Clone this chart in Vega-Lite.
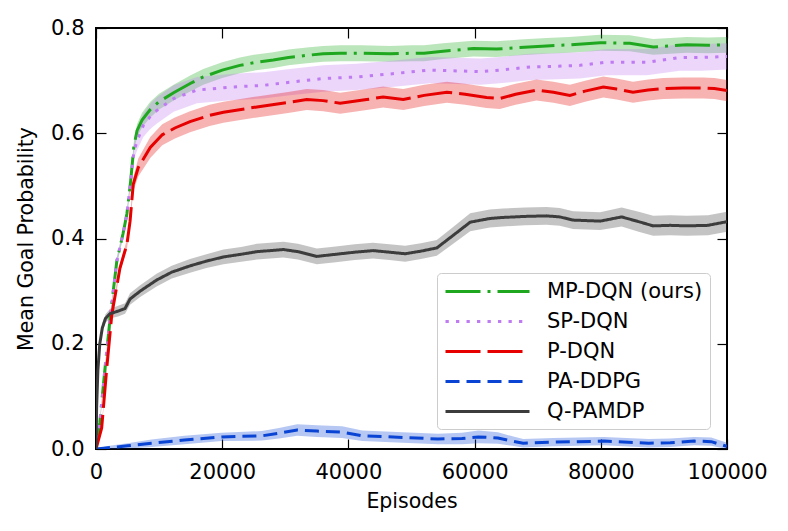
{
  "$schema": "https://vega.github.io/schema/vega-lite/v6.json",
  "width": 631,
  "height": 421,
  "autosize": {"type": "none"},
  "padding": {"left": 96, "top": 28, "right": 61, "bottom": 82},
  "background": "white",
  "config": {
    "font": "DejaVu Sans",
    "view": {"stroke": "#000000", "strokeWidth": 2},
    "axis": {
      "domain": false,
      "grid": false,
      "tickColor": "#000000",
      "tickWidth": 1.2,
      "tickSize": -10,
      "labelFlush": false,
      "labelFont": "DejaVu Sans",
      "labelFontSize": 21,
      "labelColor": "#000000",
      "titleFont": "DejaVu Sans",
      "titleFontSize": 20.5,
      "titleFontWeight": "normal",
      "titleColor": "#000000"
    },
    "legend": {
      "fillColor": "rgba(255,255,255,0.8)",
      "strokeColor": "#cccccc",
      "cornerRadius": 4,
      "padding": 7,
      "symbolType": "M-1,0H7.4",
      "symbolSize": 400,
      "symbolStrokeWidth": 3,
      "symbolOpacity": 1,
      "labelFont": "DejaVu Sans",
      "labelFontSize": 21,
      "labelColor": "#000000",
      "labelOffset": 80,
      "rowPadding": 8
    }
  },
  "data": {
    "values": [
      {"algo": "MP-DQN (ours)", "ep": 0, "mean": 0.0, "lo": 0.0, "hi": 0.0},
      {"algo": "MP-DQN (ours)", "ep": 600, "mean": 0.05, "lo": 0.045, "hi": 0.055},
      {"algo": "MP-DQN (ours)", "ep": 1400, "mean": 0.15, "lo": 0.144, "hi": 0.156},
      {"algo": "MP-DQN (ours)", "ep": 2300, "mean": 0.256, "lo": 0.25, "hi": 0.262},
      {"algo": "MP-DQN (ours)", "ep": 3300, "mean": 0.357, "lo": 0.35, "hi": 0.364},
      {"algo": "MP-DQN (ours)", "ep": 4300, "mean": 0.41, "lo": 0.403, "hi": 0.417},
      {"algo": "MP-DQN (ours)", "ep": 4900, "mean": 0.447, "lo": 0.44, "hi": 0.454},
      {"algo": "MP-DQN (ours)", "ep": 5500, "mean": 0.51, "lo": 0.502, "hi": 0.518},
      {"algo": "MP-DQN (ours)", "ep": 6000, "mean": 0.575, "lo": 0.565, "hi": 0.585},
      {"algo": "MP-DQN (ours)", "ep": 6500, "mean": 0.605, "lo": 0.593, "hi": 0.617},
      {"algo": "MP-DQN (ours)", "ep": 7300, "mean": 0.625, "lo": 0.611, "hi": 0.639},
      {"algo": "MP-DQN (ours)", "ep": 8600, "mean": 0.645, "lo": 0.63, "hi": 0.66},
      {"algo": "MP-DQN (ours)", "ep": 10000, "mean": 0.66, "lo": 0.645, "hi": 0.675},
      {"algo": "MP-DQN (ours)", "ep": 12300, "mean": 0.677, "lo": 0.662, "hi": 0.692},
      {"algo": "MP-DQN (ours)", "ep": 15000, "mean": 0.695, "lo": 0.68, "hi": 0.71},
      {"algo": "MP-DQN (ours)", "ep": 17000, "mean": 0.707, "lo": 0.692, "hi": 0.722},
      {"algo": "MP-DQN (ours)", "ep": 20000, "mean": 0.72, "lo": 0.705, "hi": 0.735},
      {"algo": "MP-DQN (ours)", "ep": 22800, "mean": 0.729, "lo": 0.714, "hi": 0.744},
      {"algo": "MP-DQN (ours)", "ep": 25000, "mean": 0.734, "lo": 0.719, "hi": 0.749},
      {"algo": "MP-DQN (ours)", "ep": 28100, "mean": 0.739, "lo": 0.724, "hi": 0.754},
      {"algo": "MP-DQN (ours)", "ep": 30500, "mean": 0.744, "lo": 0.729, "hi": 0.759},
      {"algo": "MP-DQN (ours)", "ep": 33400, "mean": 0.748, "lo": 0.733, "hi": 0.763},
      {"algo": "MP-DQN (ours)", "ep": 36000, "mean": 0.751, "lo": 0.736, "hi": 0.766},
      {"algo": "MP-DQN (ours)", "ep": 38700, "mean": 0.752, "lo": 0.737, "hi": 0.767},
      {"algo": "MP-DQN (ours)", "ep": 42000, "mean": 0.752, "lo": 0.737, "hi": 0.767},
      {"algo": "MP-DQN (ours)", "ep": 46600, "mean": 0.751, "lo": 0.736, "hi": 0.766},
      {"algo": "MP-DQN (ours)", "ep": 50000, "mean": 0.752, "lo": 0.737, "hi": 0.767},
      {"algo": "MP-DQN (ours)", "ep": 52000, "mean": 0.752, "lo": 0.737, "hi": 0.767},
      {"algo": "MP-DQN (ours)", "ep": 55000, "mean": 0.756, "lo": 0.741, "hi": 0.771},
      {"algo": "MP-DQN (ours)", "ep": 59800, "mean": 0.761, "lo": 0.746, "hi": 0.776},
      {"algo": "MP-DQN (ours)", "ep": 63500, "mean": 0.76, "lo": 0.745, "hi": 0.775},
      {"algo": "MP-DQN (ours)", "ep": 67200, "mean": 0.763, "lo": 0.748, "hi": 0.778},
      {"algo": "MP-DQN (ours)", "ep": 71400, "mean": 0.766, "lo": 0.751, "hi": 0.781},
      {"algo": "MP-DQN (ours)", "ep": 75000, "mean": 0.768, "lo": 0.753, "hi": 0.783},
      {"algo": "MP-DQN (ours)", "ep": 79900, "mean": 0.772, "lo": 0.757, "hi": 0.787},
      {"algo": "MP-DQN (ours)", "ep": 84600, "mean": 0.771, "lo": 0.756, "hi": 0.786},
      {"algo": "MP-DQN (ours)", "ep": 88300, "mean": 0.764, "lo": 0.749, "hi": 0.779},
      {"algo": "MP-DQN (ours)", "ep": 91000, "mean": 0.766, "lo": 0.751, "hi": 0.781},
      {"algo": "MP-DQN (ours)", "ep": 93600, "mean": 0.768, "lo": 0.753, "hi": 0.783},
      {"algo": "MP-DQN (ours)", "ep": 97000, "mean": 0.767, "lo": 0.752, "hi": 0.782},
      {"algo": "MP-DQN (ours)", "ep": 100000, "mean": 0.768, "lo": 0.753, "hi": 0.783},

      {"algo": "SP-DQN", "ep": 0, "mean": 0.0, "lo": 0.0, "hi": 0.0},
      {"algo": "SP-DQN", "ep": 600, "mean": 0.05, "lo": 0.045, "hi": 0.055},
      {"algo": "SP-DQN", "ep": 1400, "mean": 0.15, "lo": 0.144, "hi": 0.156},
      {"algo": "SP-DQN", "ep": 2300, "mean": 0.256, "lo": 0.25, "hi": 0.262},
      {"algo": "SP-DQN", "ep": 3300, "mean": 0.357, "lo": 0.35, "hi": 0.364},
      {"algo": "SP-DQN", "ep": 4300, "mean": 0.41, "lo": 0.402, "hi": 0.418},
      {"algo": "SP-DQN", "ep": 4900, "mean": 0.447, "lo": 0.438, "hi": 0.456},
      {"algo": "SP-DQN", "ep": 5500, "mean": 0.51, "lo": 0.498, "hi": 0.522},
      {"algo": "SP-DQN", "ep": 6000, "mean": 0.565, "lo": 0.55, "hi": 0.58},
      {"algo": "SP-DQN", "ep": 6500, "mean": 0.585, "lo": 0.567, "hi": 0.603},
      {"algo": "SP-DQN", "ep": 7500, "mean": 0.615, "lo": 0.593, "hi": 0.637},
      {"algo": "SP-DQN", "ep": 8600, "mean": 0.632, "lo": 0.608, "hi": 0.656},
      {"algo": "SP-DQN", "ep": 9600, "mean": 0.643, "lo": 0.618, "hi": 0.668},
      {"algo": "SP-DQN", "ep": 12300, "mean": 0.666, "lo": 0.641, "hi": 0.691},
      {"algo": "SP-DQN", "ep": 16000, "mean": 0.682, "lo": 0.657, "hi": 0.707},
      {"algo": "SP-DQN", "ep": 21800, "mean": 0.688, "lo": 0.663, "hi": 0.713},
      {"algo": "SP-DQN", "ep": 26500, "mean": 0.691, "lo": 0.666, "hi": 0.716},
      {"algo": "SP-DQN", "ep": 30700, "mean": 0.697, "lo": 0.672, "hi": 0.722},
      {"algo": "SP-DQN", "ep": 36000, "mean": 0.704, "lo": 0.679, "hi": 0.729},
      {"algo": "SP-DQN", "ep": 41300, "mean": 0.707, "lo": 0.682, "hi": 0.732},
      {"algo": "SP-DQN", "ep": 46000, "mean": 0.712, "lo": 0.687, "hi": 0.737},
      {"algo": "SP-DQN", "ep": 52900, "mean": 0.72, "lo": 0.695, "hi": 0.745},
      {"algo": "SP-DQN", "ep": 56000, "mean": 0.719, "lo": 0.694, "hi": 0.744},
      {"algo": "SP-DQN", "ep": 60900, "mean": 0.717, "lo": 0.692, "hi": 0.742},
      {"algo": "SP-DQN", "ep": 64000, "mean": 0.72, "lo": 0.695, "hi": 0.745},
      {"algo": "SP-DQN", "ep": 68800, "mean": 0.726, "lo": 0.701, "hi": 0.751},
      {"algo": "SP-DQN", "ep": 72000, "mean": 0.727, "lo": 0.702, "hi": 0.752},
      {"algo": "SP-DQN", "ep": 76700, "mean": 0.729, "lo": 0.704, "hi": 0.754},
      {"algo": "SP-DQN", "ep": 80900, "mean": 0.735, "lo": 0.71, "hi": 0.76},
      {"algo": "SP-DQN", "ep": 87300, "mean": 0.735, "lo": 0.71, "hi": 0.76},
      {"algo": "SP-DQN", "ep": 92500, "mean": 0.744, "lo": 0.719, "hi": 0.769},
      {"algo": "SP-DQN", "ep": 96000, "mean": 0.744, "lo": 0.719, "hi": 0.769},
      {"algo": "SP-DQN", "ep": 100000, "mean": 0.746, "lo": 0.721, "hi": 0.771},

      {"algo": "P-DQN", "ep": 0, "mean": 0.0, "lo": 0.0, "hi": 0.0},
      {"algo": "P-DQN", "ep": 900, "mean": 0.04, "lo": 0.035, "hi": 0.045},
      {"algo": "P-DQN", "ep": 1700, "mean": 0.153, "lo": 0.147, "hi": 0.159},
      {"algo": "P-DQN", "ep": 2500, "mean": 0.255, "lo": 0.248, "hi": 0.262},
      {"algo": "P-DQN", "ep": 3800, "mean": 0.344, "lo": 0.336, "hi": 0.352},
      {"algo": "P-DQN", "ep": 4900, "mean": 0.389, "lo": 0.38, "hi": 0.398},
      {"algo": "P-DQN", "ep": 5400, "mean": 0.433, "lo": 0.423, "hi": 0.443},
      {"algo": "P-DQN", "ep": 5900, "mean": 0.503, "lo": 0.49, "hi": 0.516},
      {"algo": "P-DQN", "ep": 6700, "mean": 0.535, "lo": 0.518, "hi": 0.552},
      {"algo": "P-DQN", "ep": 8600, "mean": 0.573, "lo": 0.553, "hi": 0.593},
      {"algo": "P-DQN", "ep": 10500, "mean": 0.597, "lo": 0.577, "hi": 0.617},
      {"algo": "P-DQN", "ep": 12500, "mean": 0.61, "lo": 0.59, "hi": 0.63},
      {"algo": "P-DQN", "ep": 14900, "mean": 0.622, "lo": 0.602, "hi": 0.642},
      {"algo": "P-DQN", "ep": 18000, "mean": 0.634, "lo": 0.614, "hi": 0.654},
      {"algo": "P-DQN", "ep": 20200, "mean": 0.64, "lo": 0.62, "hi": 0.66},
      {"algo": "P-DQN", "ep": 25500, "mean": 0.65, "lo": 0.63, "hi": 0.67},
      {"algo": "P-DQN", "ep": 30700, "mean": 0.659, "lo": 0.639, "hi": 0.679},
      {"algo": "P-DQN", "ep": 33400, "mean": 0.664, "lo": 0.644, "hi": 0.684},
      {"algo": "P-DQN", "ep": 36000, "mean": 0.662, "lo": 0.642, "hi": 0.682},
      {"algo": "P-DQN", "ep": 38700, "mean": 0.657, "lo": 0.637, "hi": 0.677},
      {"algo": "P-DQN", "ep": 42900, "mean": 0.664, "lo": 0.644, "hi": 0.684},
      {"algo": "P-DQN", "ep": 45500, "mean": 0.669, "lo": 0.649, "hi": 0.689},
      {"algo": "P-DQN", "ep": 48700, "mean": 0.664, "lo": 0.644, "hi": 0.684},
      {"algo": "P-DQN", "ep": 52000, "mean": 0.672, "lo": 0.652, "hi": 0.692},
      {"algo": "P-DQN", "ep": 55600, "mean": 0.678, "lo": 0.658, "hi": 0.698},
      {"algo": "P-DQN", "ep": 58500, "mean": 0.674, "lo": 0.654, "hi": 0.694},
      {"algo": "P-DQN", "ep": 61900, "mean": 0.668, "lo": 0.648, "hi": 0.688},
      {"algo": "P-DQN", "ep": 64000, "mean": 0.666, "lo": 0.646, "hi": 0.686},
      {"algo": "P-DQN", "ep": 66500, "mean": 0.674, "lo": 0.654, "hi": 0.694},
      {"algo": "P-DQN", "ep": 69800, "mean": 0.682, "lo": 0.662, "hi": 0.702},
      {"algo": "P-DQN", "ep": 72500, "mean": 0.678, "lo": 0.658, "hi": 0.698},
      {"algo": "P-DQN", "ep": 75100, "mean": 0.672, "lo": 0.652, "hi": 0.692},
      {"algo": "P-DQN", "ep": 77500, "mean": 0.68, "lo": 0.66, "hi": 0.7},
      {"algo": "P-DQN", "ep": 80400, "mean": 0.688, "lo": 0.668, "hi": 0.708},
      {"algo": "P-DQN", "ep": 82500, "mean": 0.684, "lo": 0.664, "hi": 0.704},
      {"algo": "P-DQN", "ep": 85100, "mean": 0.678, "lo": 0.658, "hi": 0.698},
      {"algo": "P-DQN", "ep": 87500, "mean": 0.682, "lo": 0.662, "hi": 0.702},
      {"algo": "P-DQN", "ep": 89900, "mean": 0.685, "lo": 0.665, "hi": 0.705},
      {"algo": "P-DQN", "ep": 93000, "mean": 0.686, "lo": 0.666, "hi": 0.706},
      {"algo": "P-DQN", "ep": 96200, "mean": 0.686, "lo": 0.666, "hi": 0.706},
      {"algo": "P-DQN", "ep": 98000, "mean": 0.685, "lo": 0.665, "hi": 0.705},
      {"algo": "P-DQN", "ep": 100000, "mean": 0.681, "lo": 0.661, "hi": 0.701},

      {"algo": "PA-DDPG", "ep": 0, "mean": 0.0, "lo": 0.0, "hi": 0.0},
      {"algo": "PA-DDPG", "ep": 1600, "mean": 0.002, "lo": 0.0, "hi": 0.005},
      {"algo": "PA-DDPG", "ep": 5000, "mean": 0.006, "lo": 0.001, "hi": 0.011},
      {"algo": "PA-DDPG", "ep": 8800, "mean": 0.011, "lo": 0.004, "hi": 0.018},
      {"algo": "PA-DDPG", "ep": 14000, "mean": 0.017, "lo": 0.009, "hi": 0.025},
      {"algo": "PA-DDPG", "ep": 19900, "mean": 0.023, "lo": 0.015, "hi": 0.031},
      {"algo": "PA-DDPG", "ep": 26300, "mean": 0.025, "lo": 0.016, "hi": 0.034},
      {"algo": "PA-DDPG", "ep": 29000, "mean": 0.03, "lo": 0.02, "hi": 0.04},
      {"algo": "PA-DDPG", "ep": 31900, "mean": 0.036, "lo": 0.025, "hi": 0.047},
      {"algo": "PA-DDPG", "ep": 35000, "mean": 0.034, "lo": 0.023, "hi": 0.045},
      {"algo": "PA-DDPG", "ep": 39000, "mean": 0.032, "lo": 0.021, "hi": 0.043},
      {"algo": "PA-DDPG", "ep": 42200, "mean": 0.025, "lo": 0.015, "hi": 0.035},
      {"algo": "PA-DDPG", "ep": 48600, "mean": 0.022, "lo": 0.012, "hi": 0.032},
      {"algo": "PA-DDPG", "ep": 54200, "mean": 0.019, "lo": 0.009, "hi": 0.029},
      {"algo": "PA-DDPG", "ep": 58000, "mean": 0.02, "lo": 0.009, "hi": 0.031},
      {"algo": "PA-DDPG", "ep": 60600, "mean": 0.023, "lo": 0.011, "hi": 0.035},
      {"algo": "PA-DDPG", "ep": 63700, "mean": 0.021, "lo": 0.01, "hi": 0.032},
      {"algo": "PA-DDPG", "ep": 66000, "mean": 0.015, "lo": 0.006, "hi": 0.024},
      {"algo": "PA-DDPG", "ep": 67700, "mean": 0.011, "lo": 0.003, "hi": 0.019},
      {"algo": "PA-DDPG", "ep": 72500, "mean": 0.013, "lo": 0.005, "hi": 0.021},
      {"algo": "PA-DDPG", "ep": 80500, "mean": 0.015, "lo": 0.007, "hi": 0.023},
      {"algo": "PA-DDPG", "ep": 87600, "mean": 0.011, "lo": 0.003, "hi": 0.019},
      {"algo": "PA-DDPG", "ep": 91000, "mean": 0.012, "lo": 0.004, "hi": 0.02},
      {"algo": "PA-DDPG", "ep": 94800, "mean": 0.015, "lo": 0.007, "hi": 0.023},
      {"algo": "PA-DDPG", "ep": 97500, "mean": 0.014, "lo": 0.006, "hi": 0.022},
      {"algo": "PA-DDPG", "ep": 100000, "mean": 0.005, "lo": 0.0, "hi": 0.012},

      {"algo": "Q-PAMDP", "ep": 0, "mean": 0.0, "lo": 0.0, "hi": 0.0},
      {"algo": "Q-PAMDP", "ep": 100, "mean": 0.08, "lo": 0.075, "hi": 0.085},
      {"algo": "Q-PAMDP", "ep": 300, "mean": 0.15, "lo": 0.144, "hi": 0.156},
      {"algo": "Q-PAMDP", "ep": 600, "mean": 0.2, "lo": 0.193, "hi": 0.207},
      {"algo": "Q-PAMDP", "ep": 1000, "mean": 0.23, "lo": 0.222, "hi": 0.238},
      {"algo": "Q-PAMDP", "ep": 1500, "mean": 0.248, "lo": 0.24, "hi": 0.256},
      {"algo": "Q-PAMDP", "ep": 2200, "mean": 0.257, "lo": 0.248, "hi": 0.266},
      {"algo": "Q-PAMDP", "ep": 3500, "mean": 0.262, "lo": 0.252, "hi": 0.272},
      {"algo": "Q-PAMDP", "ep": 4600, "mean": 0.267, "lo": 0.257, "hi": 0.277},
      {"algo": "Q-PAMDP", "ep": 5400, "mean": 0.285, "lo": 0.274, "hi": 0.296},
      {"algo": "Q-PAMDP", "ep": 7000, "mean": 0.3, "lo": 0.289, "hi": 0.311},
      {"algo": "Q-PAMDP", "ep": 9600, "mean": 0.321, "lo": 0.309, "hi": 0.333},
      {"algo": "Q-PAMDP", "ep": 12000, "mean": 0.336, "lo": 0.324, "hi": 0.348},
      {"algo": "Q-PAMDP", "ep": 14900, "mean": 0.348, "lo": 0.335, "hi": 0.361},
      {"algo": "Q-PAMDP", "ep": 17500, "mean": 0.357, "lo": 0.344, "hi": 0.37},
      {"algo": "Q-PAMDP", "ep": 20200, "mean": 0.365, "lo": 0.351, "hi": 0.379},
      {"algo": "Q-PAMDP", "ep": 23000, "mean": 0.37, "lo": 0.356, "hi": 0.384},
      {"algo": "Q-PAMDP", "ep": 25500, "mean": 0.375, "lo": 0.36, "hi": 0.39},
      {"algo": "Q-PAMDP", "ep": 29700, "mean": 0.379, "lo": 0.364, "hi": 0.394},
      {"algo": "Q-PAMDP", "ep": 32000, "mean": 0.375, "lo": 0.36, "hi": 0.39},
      {"algo": "Q-PAMDP", "ep": 35000, "mean": 0.366, "lo": 0.351, "hi": 0.381},
      {"algo": "Q-PAMDP", "ep": 38000, "mean": 0.37, "lo": 0.355, "hi": 0.385},
      {"algo": "Q-PAMDP", "ep": 41000, "mean": 0.374, "lo": 0.359, "hi": 0.389},
      {"algo": "Q-PAMDP", "ep": 43900, "mean": 0.377, "lo": 0.362, "hi": 0.392},
      {"algo": "Q-PAMDP", "ep": 46500, "mean": 0.374, "lo": 0.359, "hi": 0.389},
      {"algo": "Q-PAMDP", "ep": 49000, "mean": 0.371, "lo": 0.356, "hi": 0.386},
      {"algo": "Q-PAMDP", "ep": 51500, "mean": 0.376, "lo": 0.361, "hi": 0.391},
      {"algo": "Q-PAMDP", "ep": 54000, "mean": 0.382, "lo": 0.367, "hi": 0.397},
      {"algo": "Q-PAMDP", "ep": 56500, "mean": 0.405, "lo": 0.389, "hi": 0.421},
      {"algo": "Q-PAMDP", "ep": 59300, "mean": 0.431, "lo": 0.414, "hi": 0.448},
      {"algo": "Q-PAMDP", "ep": 62400, "mean": 0.438, "lo": 0.421, "hi": 0.455},
      {"algo": "Q-PAMDP", "ep": 64500, "mean": 0.44, "lo": 0.423, "hi": 0.457},
      {"algo": "Q-PAMDP", "ep": 68000, "mean": 0.442, "lo": 0.425, "hi": 0.459},
      {"algo": "Q-PAMDP", "ep": 71400, "mean": 0.443, "lo": 0.426, "hi": 0.46},
      {"algo": "Q-PAMDP", "ep": 73500, "mean": 0.441, "lo": 0.424, "hi": 0.458},
      {"algo": "Q-PAMDP", "ep": 75600, "mean": 0.435, "lo": 0.418, "hi": 0.452},
      {"algo": "Q-PAMDP", "ep": 79900, "mean": 0.433, "lo": 0.416, "hi": 0.45},
      {"algo": "Q-PAMDP", "ep": 83300, "mean": 0.441, "lo": 0.423, "hi": 0.459},
      {"algo": "Q-PAMDP", "ep": 86000, "mean": 0.432, "lo": 0.413, "hi": 0.451},
      {"algo": "Q-PAMDP", "ep": 88300, "mean": 0.424, "lo": 0.405, "hi": 0.443},
      {"algo": "Q-PAMDP", "ep": 91000, "mean": 0.425, "lo": 0.406, "hi": 0.444},
      {"algo": "Q-PAMDP", "ep": 93600, "mean": 0.424, "lo": 0.405, "hi": 0.443},
      {"algo": "Q-PAMDP", "ep": 97000, "mean": 0.425, "lo": 0.406, "hi": 0.444},
      {"algo": "Q-PAMDP", "ep": 100000, "mean": 0.432, "lo": 0.413, "hi": 0.451}
    ]
  },
  "layer": [
    {
      "mark": {"type": "area", "fillOpacity": 0.3, "clip": true},
      "encoding": {
        "x": {
          "field": "ep", "type": "quantitative",
          "scale": {"domain": [0, 100000], "nice": false, "zero": false},
          "axis": {"orient": "top", "values": [0, 20000, 40000, 60000, 80000, 100000], "labels": false, "title": null}
        },
        "y": {
          "field": "lo", "type": "quantitative",
          "scale": {"domain": [0, 0.8], "nice": false},
          "axis": {"orient": "right", "values": [0, 0.2, 0.4, 0.6, 0.8], "labels": false, "title": null}
        },
        "y2": {"field": "hi"},
        "fill": {
          "field": "algo", "type": "nominal",
          "scale": {
            "domain": ["Q-PAMDP", "PA-DDPG", "P-DQN", "SP-DQN", "MP-DQN (ours)"],
            "range": ["#3c3c3c", "#0a44d4", "#e60000", "#bf7cf2", "#1fa81f"]
          },
          "legend": null
        }
      }
    },
    {
      "mark": {"type": "line", "strokeWidth": 3, "clip": true},
      "encoding": {
        "x": {
          "field": "ep", "type": "quantitative",
          "axis": {"orient": "bottom", "values": [0, 20000, 40000, 60000, 80000, 100000], "format": "d", "title": "Episodes", "labelPadding": 22, "titlePadding": 9}
        },
        "y": {
          "field": "mean", "type": "quantitative",
          "axis": {"orient": "left", "values": [0, 0.2, 0.4, 0.6, 0.8], "format": ".1f", "title": "Mean Goal Probability", "labelPadding": 22, "titlePadding": 14}
        },
        "stroke": {
          "field": "algo", "type": "nominal",
          "scale": {
            "domain": ["MP-DQN (ours)", "SP-DQN", "P-DQN", "PA-DDPG", "Q-PAMDP"],
            "range": ["#1fa81f", "#bf7cf2", "#e60000", "#0a44d4", "#3c3c3c"]
          },
          "legend": {"title": null, "orient": "none", "legendX": 341, "legendY": 245}
        },
        "strokeDash": {
          "field": "algo", "type": "nominal",
          "scale": {
            "domain": ["MP-DQN (ours)", "SP-DQN", "P-DQN", "PA-DDPG", "Q-PAMDP"],
            "range": [[35, 7, 3, 7], [3.3, 7.2], [35, 7], [14, 7], [1, 0]]
          },
          "legend": {"title": null, "orient": "none", "legendX": 341, "legendY": 245}
        }
      }
    }
  ],
  "resolve": {"axis": {"x": "independent", "y": "independent"}}
}
